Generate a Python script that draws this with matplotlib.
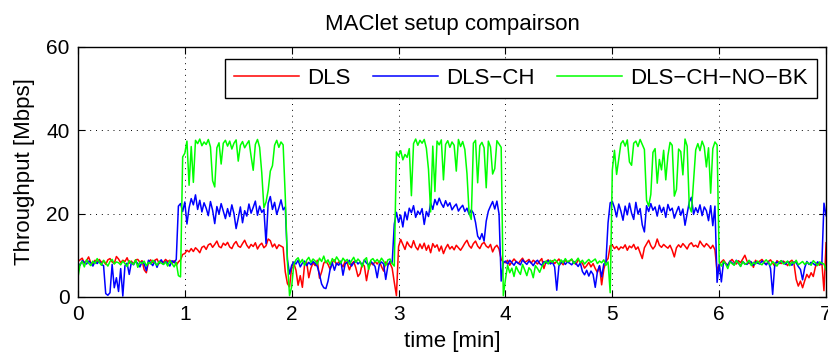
import numpy as np
import matplotlib
matplotlib.use('Agg')
from matplotlib import pyplot as plt

# throughput samples every 0.02 min, 0..7 min (one row = 0.2 min)
DLS = [
    8.5, 8.9, 9.3, 8.1, 8.7, 9.6, 8.2, 7.9, 8.8, 8.4,
    9.0, 8.3, 8.6, 7.8, 8.9, 9.2, 8.4, 8.0, 9.7, 9.1,
    8.2, 8.8, 8.5, 9.4, 8.1, 8.6, 7.9, 8.9, 9.0, 8.3,
    8.7, 6.5, 5.8, 8.4, 8.9, 8.2, 8.8, 9.1, 8.0, 8.6,
    8.3, 9.0, 8.5, 8.8, 8.1, 8.7, 7.6, 8.4, 8.9, 10.2,
    10.4, 11.2, 10.8, 11.6, 10.9, 11.8, 11.3, 10.6, 11.9, 12.2,
    11.4, 12.5, 12.8, 11.9, 12.6, 13.4, 12.1, 11.8, 12.9, 12.4,
    13.1, 12.0, 11.6, 12.7, 13.3, 12.2, 11.9, 12.8, 13.6, 12.4,
    11.7, 12.6, 12.1, 13.0, 11.5, 12.4, 12.9, 11.8, 12.3, 13.9,
    13.5, 12.0, 12.7, 11.6, 12.5, 12.2, 11.9, 6.0, 3.2, 2.4,
    7.2, 8.1, 6.4, 2.8, 5.1, 2.3, 7.6, 8.4, 4.6, 6.9,
    8.2, 7.5, 8.8, 4.5, 6.0, 8.1, 8.6, 7.8, 6.6, 8.3,
    8.9, 7.7, 8.4, 8.0, 7.2, 8.6, 8.1, 6.5, 7.9, 8.5,
    7.0, 4.9, 5.6, 8.0, 7.4, 3.9, 6.8, 8.2, 7.7, 8.5,
    7.9, 8.6, 7.3, 6.2, 8.4, 7.8, 8.1, 6.9, 3.5, 0.3,
    12.1, 13.8, 12.6, 11.4, 13.2, 12.3, 11.8, 13.5, 12.0, 11.3,
    12.7, 11.6, 12.9, 11.2, 12.4, 10.6, 12.8, 11.9, 12.5, 11.0,
    12.2, 10.4, 11.7, 12.6, 11.5, 12.1, 11.3, 12.4, 11.8, 11.2,
    12.0, 12.9, 13.6, 12.3, 11.7, 12.8, 13.4, 12.2, 11.6, 12.7,
    13.1, 12.2, 11.8, 12.6, 10.8, 11.9, 12.4, 11.5, 9.0, 8.4,
    8.2, 8.8, 7.6, 8.4, 9.1, 8.5, 8.0, 8.7, 9.3, 8.3,
    8.6, 9.0, 8.1, 8.8, 8.4, 7.9, 8.6, 9.2, 6.8, 8.5,
    8.9, 8.2, 8.7, 8.0, 8.5, 9.1, 8.3, 7.7, 8.8, 8.4,
    8.6, 9.0, 8.2, 7.8, 8.9, 8.4, 8.1, 6.9, 7.5, 8.3,
    7.2, 8.0, 6.8, 5.9, 7.4, 2.9, 6.6, 8.5, 9.2, 12.3,
    12.4, 11.6, 12.1, 11.3, 12.0, 11.7, 12.5, 11.2, 12.2, 11.8,
    12.6, 11.4, 12.0, 10.6, 9.2, 11.8, 12.7, 13.6, 12.3, 11.5,
    12.2, 13.9, 12.4, 11.9, 12.6, 12.1, 11.7, 12.4, 11.2, 9.6,
    11.8, 12.5, 11.9, 12.8, 12.2, 11.5, 12.6, 13.0, 12.1, 12.4,
    11.9, 13.4, 12.6, 12.0, 12.8, 12.3, 11.6, 12.4, 11.3, 6.2,
    7.8, 8.4, 8.9, 8.1, 7.6, 8.5, 9.0, 8.3, 7.9, 8.7,
    8.2, 9.1, 10.0, 8.6, 8.0, 8.4, 7.1, 8.8, 8.2, 8.6,
    9.0, 8.3, 7.8, 8.5, 8.9, 8.1, 7.4, 8.7, 8.3, 8.0,
    8.6, 8.2, 7.5, 8.4, 8.8, 7.9, 4.2, 2.6, 3.8, 2.2,
    3.9, 5.4, 4.6, 5.8, 4.9, 7.2, 8.1, 7.6, 8.3, 1.5,
    13.0,
]

DLS_CH = [
    8.1, 7.6, 8.7, 8.3, 7.9, 8.6, 8.2, 7.4, 8.5, 8.0,
    8.6, 7.8, 7.5, 0.8, 0.4, 1.0, 7.8, 2.2, 4.6, 1.3,
    6.8, 0.2, 7.5, 8.1, 5.4, 8.3, 7.7, 8.6, 8.0, 7.2,
    8.4, 7.9, 6.3, 8.8, 8.2, 7.5, 8.6, 7.1, 8.4, 8.9,
    7.8, 8.5, 8.1, 7.4, 8.7, 8.2, 9.0, 21.8, 22.4, 20.5,
    22.8, 17.5, 21.4, 23.6, 22.1, 24.5, 21.0, 23.2, 20.4, 22.6,
    21.3, 19.5, 22.9, 20.8, 17.6, 21.7, 19.9, 22.4, 20.6, 18.8,
    21.2, 19.3, 22.1, 20.0, 16.4, 18.9, 21.6, 17.8, 20.7, 19.4,
    22.3, 20.1, 21.5, 23.0, 19.6, 21.8, 20.3, 21.0, 12.8, 22.5,
    24.1, 21.0, 22.7, 19.8, 21.4, 23.3, 20.9, 21.6, 9.0, 5.5,
    7.6, 8.4, 7.9, 8.8, 7.2, 8.1, 8.6, 7.5, 8.3, 7.7,
    8.5, 8.0, 7.3, 5.4, 3.1, 2.2, 2.0, 3.8, 6.7, 8.2,
    6.4, 8.1, 7.6, 8.6, 5.2, 7.9, 8.3, 8.8, 7.4, 8.2,
    8.7, 7.9, 8.4, 7.6, 8.9, 8.1, 7.7, 8.5, 8.0, 7.3,
    4.6, 7.8, 8.4, 7.9, 4.2, 7.5, 8.6, 8.1, 17.5, 20.3,
    17.9, 19.6, 16.8, 20.4, 18.5, 21.3, 20.2, 21.9, 19.1, 20.6,
    19.8, 21.2, 17.4, 20.5, 19.3, 22.6, 21.0, 23.4, 22.1, 23.7,
    22.4, 21.5, 23.1, 21.8, 22.6, 20.9, 21.7, 22.3, 20.6, 21.4,
    22.0, 20.5, 21.3, 19.8, 20.9, 20.1, 17.9, 14.6, 13.8, 15.2,
    13.4, 18.2, 20.6, 21.8, 22.9, 21.1, 23.0, 19.9, 3.8, 8.2,
    8.6, 7.9, 8.8, 8.2, 7.6, 8.5, 8.1, 7.7, 8.9, 8.3,
    7.8, 8.6, 8.2, 7.5, 8.4, 8.8, 8.0, 7.6, 8.5, 8.1,
    8.7, 7.9, 8.3, 7.2, 1.6, 7.4, 8.2, 8.6, 7.8, 8.4,
    8.1, 7.7, 8.5, 8.0, 7.3, 8.2, 6.1, 5.3, 6.4, 5.0,
    6.2, 5.4, 2.3, 6.0, 7.5, 4.8, 7.9, 8.3, 17.8, 22.6,
    22.9, 21.4, 19.2, 22.3, 20.6, 18.4, 21.8, 19.7, 22.5, 20.1,
    18.6, 22.7, 19.9, 21.2, 17.3, 15.6, 21.9, 20.5, 22.4, 20.8,
    21.6, 19.4, 22.0, 20.3, 21.5, 19.1, 22.2, 20.7, 21.3, 18.9,
    20.4, 21.7, 19.6, 21.1, 17.2, 20.0, 22.8, 23.9, 19.8, 21.4,
    20.2, 22.1, 19.5, 21.6, 20.7, 18.3, 21.9, 17.1, 21.8, 3.5,
    7.9, 3.6, 8.4, 8.0, 7.5, 8.6, 8.2, 7.7, 8.8, 8.1,
    7.4, 8.5, 8.0, 7.8, 8.7, 8.3, 7.6, 8.4, 8.1, 7.9,
    8.6, 8.2, 7.7, 8.5, 6.8, 0.6, 7.9, 8.4, 8.0, 8.7,
    8.3, 7.8, 8.5, 8.1, 7.6, 8.4, 8.2, 7.3, 6.6, 4.1,
    7.0, 8.5, 7.8, 8.3, 8.0, 7.6, 8.4, 8.1, 7.8, 22.5,
    19.5,
]

DLS_CH_NO_BK = [
    4.6, 7.8, 8.5, 7.2, 8.9, 8.1, 7.5, 8.6, 8.0, 9.2,
    8.3, 7.6, 8.8, 8.1, 7.4, 8.5, 9.0, 7.9, 8.4, 8.2,
    7.7, 8.6, 8.0, 7.3, 8.7, 8.2, 7.8, 8.9, 7.1, 8.4,
    8.0, 8.6, 7.5, 8.3, 7.9, 8.8, 8.2, 7.6, 8.5, 8.1,
    7.8, 8.4, 7.4, 8.7, 8.0, 7.2, 8.3, 5.1, 4.8, 33.6,
    34.5, 37.4, 26.8, 36.1, 27.5, 37.6, 36.8, 37.9, 36.3, 37.2,
    36.6, 37.8, 36.0, 27.9, 26.4, 35.8, 37.0, 31.9, 36.9, 37.6,
    36.2, 37.4, 35.5, 36.9, 37.7, 32.6, 36.4, 37.3, 35.8, 36.7,
    37.5, 33.8, 30.4, 36.6, 37.8, 35.9, 29.8, 21.4, 22.8, 25.6,
    30.2, 31.5, 36.4, 37.6, 35.9, 37.2, 36.5, 24.1, 8.5, 0.3,
    2.5, 7.8, 8.9, 9.4, 8.2, 9.0, 7.6, 8.8, 9.5, 8.3,
    9.1, 8.6, 7.9, 9.3, 8.5, 9.8, 8.2, 8.9, 7.7, 9.2,
    8.4, 9.6, 8.8, 8.1, 9.3, 8.6, 9.0, 7.8, 8.7, 9.5,
    8.3, 9.1, 8.5, 7.2, 8.9, 9.4, 6.6, 8.8, 9.2, 8.4,
    9.0, 8.2, 9.3, 8.6, 7.5, 8.9, 9.1, 8.0, 7.4, 34.8,
    33.8, 35.1, 32.9, 34.2, 33.5, 35.6, 24.3, 36.8, 37.9, 36.4,
    37.6, 36.9, 37.8, 35.7, 30.6, 20.4, 36.2, 25.3, 37.4, 36.5,
    37.7, 28.1, 36.6, 37.5, 35.9, 37.2, 36.4, 30.2, 37.8, 36.1,
    37.3, 35.4, 29.6, 20.1, 18.6, 36.9, 37.6, 27.4, 36.3, 37.1,
    35.8, 26.2, 37.4, 36.0, 29.5, 30.8, 37.5, 36.7, 35.9, 0.3,
    4.2, 7.6, 5.8, 6.9, 4.9, 7.3, 6.2, 5.4, 7.8, 6.5,
    5.1, 7.0, 6.4, 4.6, 7.5, 6.8, 5.9, 7.2, 8.1, 8.6,
    7.9, 8.8, 8.3, 9.0, 8.5, 7.7, 8.9, 8.2, 9.2, 8.4,
    8.7, 9.1, 8.0, 8.6, 9.3, 8.2, 8.8, 7.9, 8.5, 9.0,
    8.3, 8.7, 9.1, 8.0, 8.6, 8.2, 8.9, 7.6, 8.4, 1.0,
    30.5, 35.2, 29.4, 33.1, 36.8, 37.5, 36.2, 37.7, 32.4, 31.6,
    36.9, 37.4, 36.1, 37.8, 36.6, 35.4, 23.2, 21.8, 24.6, 34.7,
    35.6, 27.3, 33.0, 30.5, 35.2, 28.1, 33.9, 37.1, 36.4, 24.2,
    25.8, 35.5, 34.9, 29.3, 37.9, 36.2, 21.7, 20.4, 27.8, 35.3,
    36.8, 35.1, 37.4, 36.0, 31.2, 35.8, 24.9, 35.6, 37.2, 36.5,
    8.3, 7.4, 8.6, 7.9, 6.8, 8.4, 8.0, 7.6, 8.7, 8.2,
    7.3, 8.5, 7.8, 8.1, 8.8, 7.5, 8.3, 7.9, 8.6, 8.0,
    7.7, 8.4, 8.9, 8.2, 7.6, 8.5, 8.0, 7.4, 8.3, 8.7,
    7.9, 8.2, 8.6, 7.5, 8.4, 8.0, 8.8, 7.7, 8.1, 8.5,
    7.8, 8.3, 8.0, 7.6, 8.7, 8.2, 7.5, 8.4, 8.1, 7.9,
    6.5,
]

SERIES = [
    ('DLS', DLS, (1, 0, 0)),
    ('DLS\u2212CH', DLS_CH, (0, 0, 1)),
    ('DLS\u2212CH\u2212NO\u2212BK', DLS_CH_NO_BK, (0, 1, 0)),
]
X_TICKS = [0, 1, 2, 3, 4, 5, 6, 7]
Y_TICKS = [0, 20, 40, 60]

plt.rcParams['font.family'] = ['Liberation Sans', 'DejaVu Sans']

fig = plt.figure(figsize=(8.29, 3.56), dpi=100)
ax = fig.add_axes([0.094, 0.166, 0.9025, 0.702])

t = np.linspace(0, 7, len(DLS))
for label, values, color in SERIES:
    ax.plot(t, values, color=color, linewidth=1.1, label=label)

ax.set_xlim(0, 7)
ax.set_ylim(0, 60)
ax.set_xticks(X_TICKS)
ax.set_yticks(Y_TICKS)
ax.tick_params(direction='in', top=True, right=True, length=5, width=0.8,
               labelsize=15, pad=6)
ax.grid(True, color='black', linestyle=(0, (1, 5)), linewidth=0.7)
for sp in ax.spines.values():
    sp.set_linewidth(1.0)

ax.set_title('MAClet setup compairson', fontsize=16, pad=12)
ax.set_xlabel('time [min]', fontsize=16, labelpad=5)
ax.set_ylabel('Throughput [Mbps]', fontsize=16, labelpad=8)

leg = ax.legend(loc='upper right', bbox_to_anchor=(0.988, 0.953), ncol=3, fontsize=16,
                frameon=True, fancybox=False, framealpha=1, edgecolor='black',
                handlelength=2.9, columnspacing=1.0, handletextpad=0.4,
                borderpad=0.4, borderaxespad=0)
leg.get_frame().set_linewidth(1.0)

fig.savefig('out.png', dpi=100)
